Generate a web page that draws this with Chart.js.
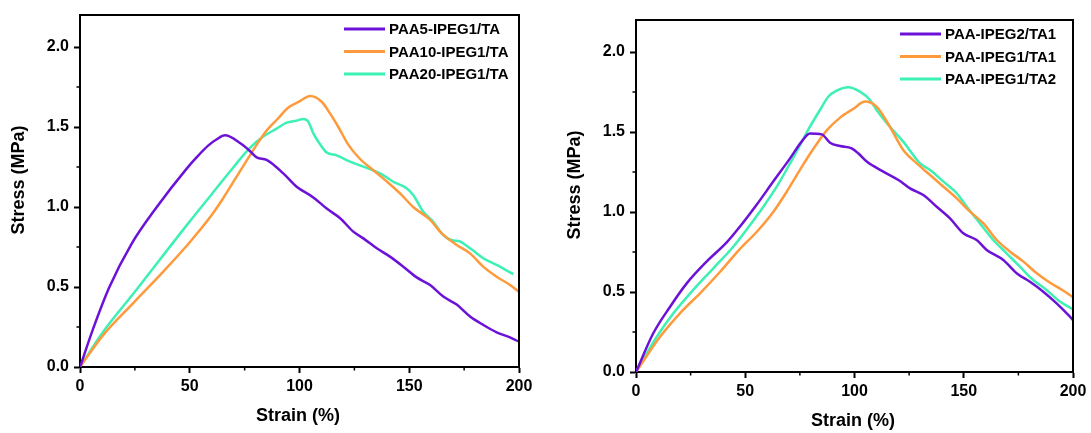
<!DOCTYPE html>
<html>
<head>
<meta charset="utf-8">
<script src="https://cdn.jsdelivr.net/npm/chart.js@4.4.1/dist/chart.umd.min.js"></script>
<style>
  body { margin: 0; background: #fff; }
  .panel { position: absolute; top: 0; }
</style>
</head>
<body>
<div class="panel" style="left:0px"><canvas id="left" width="545" height="433"></canvas></div>
<div class="panel" style="left:545px"><canvas id="right" width="546" height="433"></canvas></div>
<script>
// axis text
const xTitle = 'Strain (%)';
const yTitle = 'Stress (MPa)';
const xTicks = [0, 50, 100, 150, 200];
const yTicks = [0, 0.5, 1.0, 1.5, 2.0];

const purple = '#6c12d8';
const orange = '#ff9a3c';
const mint = '#3df0b4';

// left panel
const leftLabels = ['PAA5-IPEG1/TA', 'PAA10-IPEG1/TA', 'PAA20-IPEG1/TA'];

const strainPAA5 = [0, 6, 13.4, 23.5, 35, 48.6, 53.1, 58.5, 62.5, 66, 72.9, 77.4, 80.5, 85, 92.6, 98.7, 106.3, 112.4, 118.5, 124.5, 129.1, 135.2, 141.2, 147.3, 153.4, 159.5, 165.5, 171.6, 177.7, 183.7, 189.8, 195.9, 200];
const stressPAA5 = [0, 0.24, 0.5, 0.77, 1.0, 1.24, 1.31, 1.385, 1.425, 1.448, 1.40, 1.35, 1.31, 1.295, 1.21, 1.127, 1.06, 0.99, 0.93, 0.846, 0.804, 0.742, 0.69, 0.627, 0.56, 0.512, 0.44, 0.39, 0.315, 0.263, 0.217, 0.185, 0.158];

const strainPAA10 = [0, 10, 25, 37.5, 50, 60, 65, 75, 84, 90, 94.8, 100, 104.8, 110.1, 113.9, 117.7, 122.2, 127.6, 133.6, 139.7, 145.8, 151.8, 159.5, 164.8, 171.6, 177.7, 183.7, 189.8, 195.9, 200];
const stressPAA10 = [0, 0.19, 0.41, 0.59, 0.78, 0.95, 1.05, 1.27, 1.46, 1.55, 1.62, 1.66, 1.694, 1.658, 1.585, 1.50, 1.39, 1.30, 1.23, 1.16, 1.085, 1.00, 0.92, 0.835, 0.763, 0.71, 0.627, 0.564, 0.513, 0.47];

const strainPAA20 = [0, 10, 25, 50, 60, 70, 77.4, 83.5, 89.6, 94.2, 98.7, 101.7, 104, 106.3, 108.6, 112.4, 116.9, 123, 129.1, 136.7, 142.7, 148.8, 151.8, 156.4, 160.9, 165.5, 170.1, 172.4, 177.7, 183.7, 189.8, 197.4];
const stressPAA20 = [0, 0.21, 0.47, 0.91, 1.08, 1.25, 1.37, 1.44, 1.49, 1.527, 1.54, 1.55, 1.533, 1.46, 1.408, 1.34, 1.323, 1.283, 1.252, 1.21, 1.158, 1.117, 1.075, 0.97, 0.908, 0.825, 0.79, 0.787, 0.742, 0.68, 0.638, 0.58];

// right panel
const rightLabels = ['PAA-IPEG2/TA1', 'PAA-IPEG1/TA1', 'PAA-IPEG1/TA2'];

const strainG2T1 = [0, 7.9, 15.6, 23.2, 32.3, 41.5, 49.1, 55.2, 62.8, 70.5, 75.8, 79.6, 85, 88.8, 93.4, 98.7, 101.7, 105.6, 113.2, 120.1, 125.4, 131.5, 137.6, 143.7, 149.8, 155.9, 160.5, 168.1, 174.2, 180.3, 186.4, 192.5, 198.6, 200];
const stressG2T1 = [0, 0.242, 0.408, 0.554, 0.69, 0.81, 0.935, 1.045, 1.19, 1.335, 1.44, 1.49, 1.485, 1.433, 1.412, 1.398, 1.367, 1.315, 1.252, 1.20, 1.148, 1.106, 1.033, 0.96, 0.867, 0.825, 0.763, 0.70, 0.617, 0.564, 0.502, 0.429, 0.346, 0.325];

const strainG1T1 = [0, 11, 20.1, 29.3, 38.4, 47.6, 55.2, 62.8, 68.9, 75.1, 81.2, 87.3, 93.4, 99.5, 104.8, 110.1, 116.2, 122.3, 128.5, 134.6, 140.7, 146.8, 152.9, 159, 165.1, 171.2, 177.3, 183.4, 189.5, 195.6, 200];
const stressG1T1 = [0, 0.22, 0.367, 0.492, 0.625, 0.77, 0.875, 1.0, 1.125, 1.265, 1.395, 1.51, 1.59, 1.645, 1.69, 1.658, 1.533, 1.388, 1.304, 1.231, 1.158, 1.085, 1.002, 0.929, 0.825, 0.752, 0.69, 0.617, 0.558, 0.508, 0.467];

const strainG1T2 = [0, 9.5, 17.1, 26.2, 35.4, 44.5, 52.2, 58.3, 64.4, 70.5, 75.1, 79.6, 84.2, 88, 91.8, 97.1, 102.5, 107.1, 110.1, 116.2, 122.3, 130, 134.6, 140.7, 146.8, 151.4, 157.4, 163.5, 169.6, 175.7, 181.8, 187.9, 194, 200];
const stressG1T2 = [0, 0.22, 0.367, 0.513, 0.648, 0.783, 0.919, 1.033, 1.158, 1.304, 1.419, 1.533, 1.638, 1.72, 1.758, 1.78, 1.752, 1.70, 1.638, 1.533, 1.44, 1.304, 1.263, 1.19, 1.117, 1.033, 0.929, 0.825, 0.742, 0.658, 0.575, 0.513, 0.44, 0.392];

const FONT = "'Liberation Sans', Arial, sans-serif";

const toPoints = (xs, ys) => xs.map((x, i) => ({ x: x, y: ys[i] }));

// frame on top/right, minor ticks, axis titles and an inside legend
const decorations = {
  id: 'decorations',
  afterDraw(chart) {
    const ctx = chart.ctx;
    const { left, right, top, bottom } = chart.chartArea;
    const xs = chart.scales.x;
    const ys = chart.scales.y;
    ctx.save();
    ctx.strokeStyle = '#000';
    ctx.lineWidth = 2;
    ctx.beginPath();
    ctx.moveTo(left, top);
    ctx.lineTo(right, top);
    ctx.lineTo(right, bottom);
    ctx.stroke();

    // minor ticks
    ctx.lineWidth = 1.5;
    ctx.beginPath();
    for (let i = 0; i < xTicks.length - 1; i++) {
      const px = xs.getPixelForValue((xTicks[i] + xTicks[i + 1]) / 2);
      ctx.moveTo(px, bottom);
      ctx.lineTo(px, bottom + 3.5);
    }
    for (let i = 0; i < yTicks.length; i++) {
      const v = yTicks[i] + 0.25;
      if (v > ys.max) break;
      const py = ys.getPixelForValue(v);
      ctx.moveTo(left, py);
      ctx.lineTo(left - 3.5, py);
    }
    ctx.stroke();

    // axis titles
    ctx.fillStyle = '#000';
    ctx.font = 'bold 18px ' + FONT;
    ctx.textAlign = 'center';
    ctx.textBaseline = 'middle';
    ctx.fillText(xTitle, (left + right) / 2 - 1.5, bottom + 49);
    ctx.save();
    ctx.translate(left - 61, (top + bottom) / 2 - 11);
    ctx.rotate(-Math.PI / 2);
    ctx.fillText(yTitle, 0, 0);
    ctx.restore();

    // legend
    ctx.font = 'bold 15px ' + FONT;
    ctx.textAlign = 'left';
    chart.data.datasets.forEach((ds, i) => {
      const ly = top + 14 + i * 22.5;
      ctx.strokeStyle = ds.borderColor;
      ctx.lineWidth = 3;
      ctx.beginPath();
      ctx.moveTo(left + 264, ly);
      ctx.lineTo(left + 305, ly);
      ctx.stroke();
      ctx.fillText(ds.label, left + 309, ly + 1);
    });
    ctx.restore();
  }
};

function makeChart(id, labels, series, pad, yWidth, xHeight) {
  const colors = [purple, orange, mint];
  return new Chart(document.getElementById(id).getContext('2d'), {
    type: 'line',
    data: {
      datasets: series.map((pts, i) => ({
        label: labels[i],
        data: pts,
        borderColor: colors[i],
        backgroundColor: colors[i],
        borderWidth: 2.5,
        pointRadius: 0,
        tension: 0.35,
        cubicInterpolationMode: 'monotone'
      }))
    },
    options: {
      responsive: false,
      animation: false,
      devicePixelRatio: 1,
      layout: { padding: pad },
      plugins: {
        legend: { display: false },
        tooltip: { enabled: false }
      },
      scales: {
        x: {
          type: 'linear',
          min: 0,
          max: 200,
          afterFit: s => { s.height = xHeight; },
          ticks: {
            stepSize: 50,
            color: '#000',
            padding: 4,
            font: { family: FONT, size: 16, weight: 'bold' }
          },
          grid: { drawOnChartArea: false, drawTicks: true, tickLength: 6, tickWidth: 2, tickColor: '#000' },
          border: { display: true, color: '#000', width: 2 }
        },
        y: {
          type: 'linear',
          min: 0,
          max: 2.2,
          afterFit: s => { s.width = yWidth; },
          ticks: {
            stepSize: 0.5,
            includeBounds: false,
            color: '#000',
            padding: 5,
            font: { family: FONT, size: 16, weight: 'bold' },
            callback: v => Number(v).toFixed(1)
          },
          grid: { drawOnChartArea: false, drawTicks: true, tickLength: 6, tickWidth: 2, tickColor: '#000' },
          border: { display: true, color: '#000', width: 2 }
        }
      }
    },
    plugins: [decorations]
  });
}

makeChart('left', leftLabels, [
  toPoints(strainPAA5, stressPAA5),
  toPoints(strainPAA10, stressPAA10),
  toPoints(strainPAA20, stressPAA20)
], { top: 15, right: 26, left: 0, bottom: 0 }, 80, 66);

makeChart('right', rightLabels, [
  toPoints(strainG2T1, stressG2T1),
  toPoints(strainG1T1, stressG1T1),
  toPoints(strainG1T2, stressG1T2)
], { top: 20, right: 18, left: 0, bottom: 0 }, 91, 61);
</script>
</body>
</html>
